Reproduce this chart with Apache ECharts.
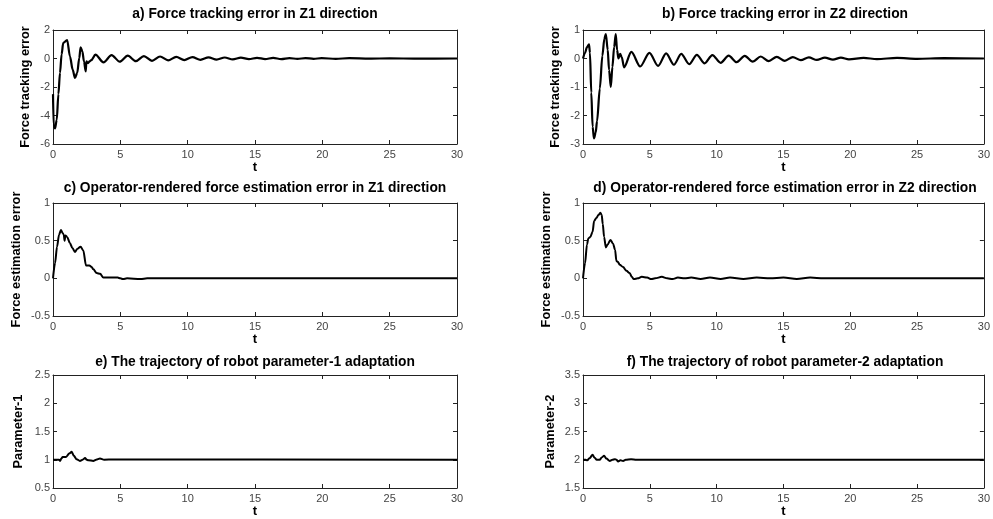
<!DOCTYPE html>
<html lang="en">
  <head>
    <meta charset="UTF-8" />
    <title>Force tracking results</title>
    <style>
      html, body { margin: 0; padding: 0; background: #fff; }
    </style>
  </head>
  <body>
    <div id="main" style="width: 993px; height: 519px"></div>

    <script src="https://cdnjs.cloudflare.com/ajax/libs/echarts/6.0.0/echarts.min.js"></script>
    <script>
      // [t, value]
      const errZ1 = [
        [0, -2.5], [0.05, -4.7], [0.15, -4.9], [0.28, -4.3], [0.4, -2.5], [0.52, -1.0],
        [0.64, 0.3], [0.76, 1.1], [1.05, 1.3], [1.26, 0.15], [1.46, -0.78], [1.63, -1.37],
        [1.8, -1.0], [1.95, 0.03], [2.05, 0.79], [2.18, 0.5], [2.3, -0.2], [2.43, -0.9],
        [2.48, -0.2], [2.6, -0.33], [2.72, -0.2], [2.84, -0.12], [3.15, 0.27], [3.75, -0.27],
        [4.35, 0.24], [4.95, -0.22], [5.55, 0.2], [6.15, -0.19], [6.75, 0.17], [7.35, -0.16],
        [7.95, 0.14], [8.55, -0.13], [9.15, 0.12], [9.75, -0.11], [10.35, 0.1], [10.95, -0.09],
        [11.55, 0.08], [12.15, -0.08], [12.75, 0.07], [13.35, -0.06], [13.95, 0.06], [14.55, -0.05],
        [15.15, 0.05], [15.75, -0.04], [16.35, 0.04], [16.95, -0.04], [17.55, 0.03], [18.15, -0.03],
        [18.75, 0.03], [19.35, -0.02], [19.95, 0.02], [21, -0.02], [22, 0.02], [23.5, -0.01],
        [25, 0.01], [27, -0.01], [30, 0]
      ]
      const errZ2 = [
        [0, 0], [0.15, 0.2], [0.3, 0.4], [0.45, 0.5], [0.52, 0.2], [0.62, -1.2], [0.72, -2.4],
        [0.82, -2.8], [0.95, -2.6], [1.05, -2.2], [1.26, -1.05], [1.45, 0.1], [1.6, 0.7],
        [1.71, 0.86], [1.85, 0.3], [1.95, -0.4], [2.08, -1.0], [2.2, -0.3], [2.33, 0.4],
        [2.45, 0.86], [2.55, 0.3], [2.65, 0], [2.78, 0.16], [2.9, 0.05], [3.07, -0.31],
        [3.62, 0.23], [4.28, -0.28], [4.97, 0.2], [5.62, -0.26], [6.22, 0.18], [6.8, -0.22],
        [7.35, 0.16], [7.95, -0.2], [8.52, 0.13], [9.1, -0.17], [9.68, 0.12], [10.3, -0.15],
        [10.9, 0.1], [11.5, -0.13], [12.1, 0.09], [12.7, -0.11], [13.3, 0.07], [13.9, -0.09],
        [14.5, 0.06], [15.1, -0.08], [15.7, 0.05], [16.3, -0.06], [16.9, 0.04], [17.5, -0.05],
        [18.1, 0.03], [18.7, -0.04], [19.3, 0.03], [19.9, -0.03], [21, 0.02], [22, -0.02],
        [23.5, 0.02], [25, -0.01], [27, 0.01], [30, 0]
      ]
      const estZ1 = [
        [0, 0], [0.15, 0.2], [0.3, 0.42], [0.45, 0.58], [0.59, 0.64], [0.72, 0.6], [0.8, 0.58],
        [0.86, 0.5], [0.92, 0.57], [1.05, 0.55], [1.25, 0.47], [1.45, 0.4], [1.63, 0.35],
        [1.8, 0.39], [2.05, 0.42], [2.25, 0.37], [2.45, 0.17], [2.7, 0.17], [2.87, 0.15],
        [3.0, 0.12], [3.24, 0.07], [3.5, 0.06], [3.74, 0.01], [4.2, 0.01], [4.8, 0.01],
        [5.0, 0], [5.2, -0.01], [5.5, 0], [6.5, -0.01], [7, 0], [30, 0]
      ]
      const estZ2 = [
        [0, 0], [0.15, 0.2], [0.3, 0.45], [0.4, 0.53], [0.55, 0.55], [0.72, 0.62], [0.83, 0.76],
        [1.0, 0.8], [1.15, 0.84], [1.3, 0.87], [1.4, 0.84], [1.48, 0.72], [1.58, 0.55],
        [1.71, 0.41], [1.85, 0.45], [2.05, 0.51], [2.25, 0.46], [2.4, 0.38], [2.5, 0.23],
        [2.6, 0.22], [2.75, 0.18], [3.0, 0.15], [3.25, 0.1], [3.49, 0.07], [3.65, 0.02],
        [3.8, -0.01], [4.1, 0], [4.4, 0.02], [4.8, 0.01], [5.1, -0.01], [5.4, 0], [5.9, 0.02],
        [6.3, 0], [6.7, -0.01], [7.1, 0.01], [7.6, 0], [8.1, 0.01], [8.8, -0.01], [9.5, 0.01],
        [10.3, -0.01], [11, 0.01], [12, -0.01], [13, 0.01], [14, 0], [15, 0.01], [16, -0.01],
        [17, 0.01], [18, 0], [30, 0]
      ]
      const param1 = [
        [0, 1.0], [0.45, 1.0], [0.52, 0.98], [0.62, 1.02], [0.72, 1.05], [0.97, 1.05],
        [1.2, 1.11], [1.39, 1.14], [1.55, 1.07], [1.75, 1.01], [2.0, 0.98], [2.2, 1.0],
        [2.38, 1.03], [2.5, 1.0], [2.63, 0.99], [2.99, 0.98], [3.2, 1.0], [3.49, 1.02],
        [3.8, 1.0], [4.5, 1.005], [30, 1.0]
      ]
      const param2 = [
        [0, 2.0], [0.2, 2.0], [0.32, 1.99], [0.5, 2.03], [0.72, 2.09], [0.85, 2.04],
        [1.03, 2.0], [1.25, 2.0], [1.4, 2.04], [1.58, 2.07], [1.75, 2.02], [2.0, 1.98],
        [2.2, 2.0], [2.38, 2.01], [2.5, 2.0], [2.63, 1.97], [2.8, 1.99], [3.0, 1.98],
        [3.2, 2.0], [3.6, 2.01], [4, 2.0], [30, 2.0]
      ]

      const tRange = [0, 30, 5]
      const titles = [
        'a) Force tracking error in Z1 direction',
        'b) Force tracking error in Z2 direction',
        'c) Operator-rendered force estimation error in Z1 direction',
        'd) Operator-rendered force estimation error in Z2 direction',
        'e) The trajectory of robot parameter-1 adaptation',
        'f) The trajectory of robot parameter-2 adaptation'
      ]
      const yNames = [
        'Force tracking error', 'Force tracking error',
        'Force estimation error', 'Force estimation error',
        'Parameter-1', 'Parameter-2'
      ]
      // [min, max, interval]
      const yRanges = [[-6, 2, 2], [-3, 1, 1], [-0.5, 1, 0.5], [-0.5, 1, 0.5], [0.5, 2.5, 0.5], [1.5, 3.5, 0.5]]
      const curves = [errZ1, errZ2, estZ1, estZ2, param1, param2]

      // layout of each panel
      const boxes = [
        { left: 53, top: 30, height: 114, titleTop: 7, nameGap: 21 },
        { left: 583, top: 30, height: 114, titleTop: 7, nameGap: 21 },
        { left: 53, top: 203, height: 113, titleTop: 181, nameGap: 30 },
        { left: 583, top: 203, height: 113, titleTop: 181, nameGap: 30 },
        { left: 53, top: 375, height: 113, titleTop: 355, nameGap: 28 },
        { left: 583, top: 375, height: 113, titleTop: 355, nameGap: 26 }
      ]
      const W = 404
      const font = 'Liberation Sans, Arial, sans-serif'
      const axisColor = '#222'

      const grid = [], xAxis = [], yAxis = [], title = [], series = []
      boxes.forEach((b, i) => {
        grid.push({ left: b.left, top: b.top, width: W, height: b.height })
        title.push({
          text: titles[i],
          left: b.left + W / 2,
          top: b.titleTop,
          textAlign: 'center',
          padding: 0,
          textStyle: { fontFamily: font, fontSize: 13.8, fontWeight: 'bold', color: '#000' }
        })
        const common = {
          type: 'value',
          gridIndex: i,
          axisLine: { onZero: false, lineStyle: { color: axisColor, width: 1 } },
          axisTick: { inside: true, length: 4, lineStyle: { color: axisColor } },
          splitLine: { show: false }
        }
        xAxis.push(Object.assign({}, common, {
          position: 'bottom',
          min: tRange[0], max: tRange[1], interval: tRange[2],
          axisLabel: { color: '#444', fontSize: 11, margin: 5, fontFamily: font },
          name: 't',
          nameLocation: 'middle',
          nameGap: 16,
          nameTextStyle: { fontFamily: font, fontSize: 13, fontWeight: 'bold', color: '#000' }
        }))
        xAxis.push(Object.assign({}, common, {
          position: 'top',
          min: tRange[0], max: tRange[1], interval: tRange[2],
          axisLabel: { show: false }
        }))
        const yr = yRanges[i]
        yAxis.push(Object.assign({}, common, {
          position: 'left',
          min: yr[0], max: yr[1], interval: yr[2],
          axisLabel: { color: '#444', fontSize: 11, margin: 3, fontFamily: font },
          name: yNames[i],
          nameLocation: 'middle',
          nameGap: b.nameGap,
          nameTextStyle: { fontFamily: font, fontSize: 12.8, fontWeight: 'bold', color: '#000' }
        }))
        yAxis.push(Object.assign({}, common, {
          position: 'right',
          min: yr[0], max: yr[1], interval: yr[2],
          axisLabel: { show: false }
        }))
        series.push({
          type: 'line',
          xAxisIndex: i * 2,
          yAxisIndex: i * 2,
          data: curves[i],
          showSymbol: false,
          symbol: 'none',
          smooth: 0.3,
          smoothMonotone: 'x',
          lineStyle: { color: '#000', width: i < 2 ? 2.2 : 2 }
        })
      })

      const option = {
        animation: false,
        backgroundColor: '#fff',
        title, grid, xAxis, yAxis, series
      }
      echarts.init(document.querySelector('#main')).setOption(option)
    </script>
  </body>
</html>
